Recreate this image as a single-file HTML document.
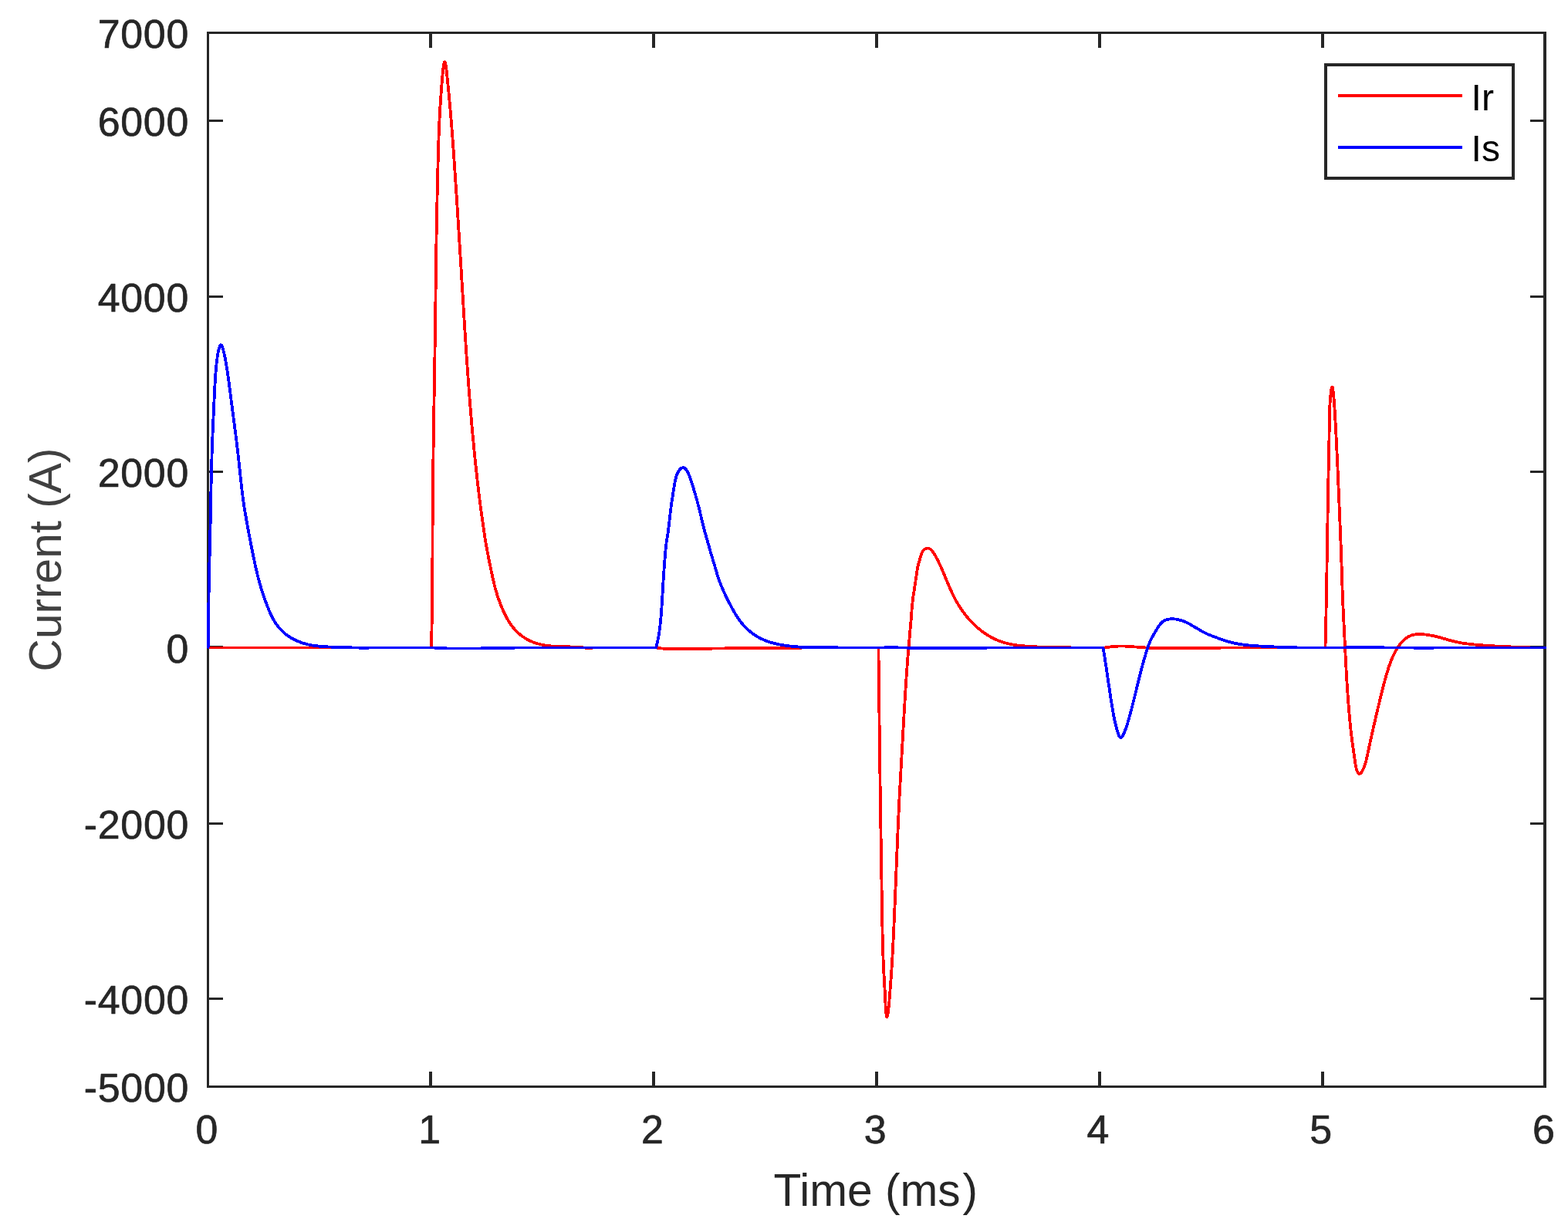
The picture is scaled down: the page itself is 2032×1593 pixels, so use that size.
<!DOCTYPE html>
<html lang="en"><head><meta charset="utf-8"><title>Current (A) vs Time (ms)</title>
<style>
html,body{margin:0;padding:0;background:#fff;}
body{width:2032px;height:1593px;overflow:hidden;position:relative;}
svg{position:absolute;left:0;top:0;display:block;}
text{font-family:"Liberation Sans",sans-serif;}
.tk{font-size:51.9px;fill:#262626;stroke:#262626;stroke-width:0.7;stroke-linejoin:round;letter-spacing:0.7px;}
.lb{font-size:58.6px;fill:#262626;}
.lg{font-size:48.1px;fill:#000;}
</style></head><body>
<svg width="2032" height="1593" viewBox="0 0 2032 1593">
<rect x="0" y="0" width="2032" height="1593" fill="#fff"/>
<g fill="#262626" shape-rendering="crispEdges">
<rect x="268" y="41" width="3" height="1369"/>
<rect x="2000" y="41" width="4" height="1369"/>
<rect x="268" y="41" width="1736" height="3"/>
<rect x="268" y="1407" width="1736" height="3"/>
<rect x="556" y="1389" width="4" height="19"/>
<rect x="556" y="43" width="4" height="19"/>
<rect x="845" y="1389" width="4" height="19"/>
<rect x="845" y="43" width="4" height="19"/>
<rect x="1134" y="1389" width="4" height="19"/>
<rect x="1134" y="43" width="4" height="19"/>
<rect x="1423" y="1389" width="4" height="19"/>
<rect x="1423" y="43" width="4" height="19"/>
<rect x="1712" y="1389" width="4" height="19"/>
<rect x="1712" y="43" width="4" height="19"/>
<rect x="270" y="155" width="19" height="3"/>
<rect x="1983" y="155" width="18" height="3"/>
<rect x="270" y="383" width="19" height="3"/>
<rect x="1983" y="383" width="18" height="3"/>
<rect x="270" y="610" width="19" height="3"/>
<rect x="1983" y="610" width="18" height="3"/>
<rect x="270" y="837" width="19" height="3"/>
<rect x="1983" y="837" width="18" height="3"/>
<rect x="270" y="1066" width="19" height="3"/>
<rect x="1983" y="1066" width="18" height="3"/>
<rect x="270" y="1293" width="19" height="3"/>
<rect x="1983" y="1293" width="18" height="3"/>
</g>
<g fill="none" stroke-width="3.8" stroke-linejoin="round" stroke-linecap="butt" shape-rendering="crispEdges">
<path stroke="#ff0000" d="M268.6 839.5L558.5 839.5L558.54 839.47L558.71 838.42L558.87 836.01L559.22 826.43L559.56 811.76L559.87 792.64L560.11 773.24L560.29 752.17L560.61 683.35L560.82 652.26L561.08 623.35L561.41 595.1L562.08 547.99L563.85 434.6L565.01 343.59L565.44 313.56L566.16 273.62L567.18 227.19L567.93 197.68L568.64 175.3L569.44 156.22L569.89 147.37L570.4 138.82L571.14 127.6L572.08 114.78L573.15 101.37L573.93 92.85L574.54 87.39L574.89 84.89L575.18 83.22L575.47 81.9L575.76 80.94L576.06 80.41L576.29 80.3L576.44 80.38L576.59 80.57L576.97 81.51L577.28 82.7L577.67 84.69L578.45 90.03L579.3 97.43L580.93 114.07L583.01 136.63L584.53 154.19L585.93 171.71L587.2 188.65L588.65 209.2L592.02 259.52L595.33 311.9L602.18 424.18L604.18 455.2L606.07 482.67L607.36 500.28L608.65 517.18L609.96 533.37L611.27 548.85L612.65 564.34L614.05 579.12L615.52 593.9L616.99 607.97L618.92 625.39L620.93 642.37L622.66 656.06L624.67 670.75L627.01 687.3L628.67 698.18L630.62 709.59L632.88 721.7L635.54 734.92L638.36 748.11L640.45 757.23L641.33 760.75L642.28 764.25L643.31 767.78L644.52 771.69L645.82 775.58L647.19 779.45L648.63 783.25L649.99 786.65L651.53 790.27L652.96 793.46L654.27 796.22L655.6 798.87L656.94 801.39L658.15 803.53L659.54 805.83L660.81 807.79L662.12 809.69L663.47 811.53L665.06 813.54L666.54 815.28L668.08 816.97L669.69 818.62L671.37 820.21L673.11 821.76L674.92 823.24L676.81 824.67L678.77 826.04L680.81 827.34L682.93 828.58L684.85 829.61L687.12 830.72L689.17 831.63L691.29 832.48L693.48 833.28L695.74 834.01L698.07 834.69L700.47 835.3L702.94 835.84L705.48 836.32L708.1 836.73L710.78 837.07L713.53 837.36L718.31 837.73L723.97 838.01L729.59 838.19L741.46 838.46L746.64 838.65L750.4 838.9L757.85 839.6L761.55 839.8L763.59 839.81L765.81 839.77L770 839.5L850 839.5L857 840.37L860 840.69L863 840.91L866 841L917 841L919 840.93L923 840.59L925 840.5L939 840.41L969.5 840.31L988 840.19L1016.5 839.9L1047 839.5L1138.4 839.5L1139.89 963.19L1140.86 1037.21L1142.84 1168.91L1143.26 1193.18L1143.66 1212.82L1144.18 1232.42L1144.76 1248.07L1145.29 1259.16L1146.57 1282.49L1147.69 1305.2L1148.02 1310.32L1148.4 1314.13L1148.62 1315.7L1148.87 1317.02L1149.13 1317.93L1149.24 1318.14L1149.35 1318.24L1149.47 1318.24L1149.64 1318.02L1149.92 1317.2L1150.26 1315.64L1150.64 1313.38L1151.45 1307.36L1152.22 1299.86L1153.15 1288.74L1154.5 1270.36L1155.49 1256.01L1156.28 1243.29L1157.41 1222.1L1158.66 1195.36L1159.96 1164.79L1163.57 1076.12L1164.67 1051.15L1165.61 1031.91L1171.31 930.55L1172.78 905.52L1173.81 889L1174.82 874.06L1175.83 859.97L1176.93 845.98L1178.03 832.91L1180.48 805.53L1180.98 799.32L1181.76 788.44L1182.43 781.42L1183.12 775.66L1183.92 769.84L1186.62 752.32L1188.63 738.88L1189.39 734.63L1190.15 731.2L1191.8 725.61L1193.15 720.61L1194 718.02L1194.45 716.91L1194.96 715.84L1195.53 714.83L1196.17 713.9L1196.89 713.05L1197.49 712.48L1198.13 711.97L1198.81 711.54L1199.77 711.07L1200.5 710.82L1201.23 710.65L1201.96 710.58L1202.67 710.61L1203.36 710.73L1204.03 710.95L1204.68 711.25L1205.31 711.63L1206.13 712.24L1206.73 712.77L1207.5 713.57L1208.24 714.45L1208.96 715.39L1210.67 717.95L1212.43 720.87L1214.11 723.93L1215.81 727.28L1217.56 730.96L1219.34 734.9L1221.48 739.8L1228.72 757.08L1231.43 763.34L1234.58 770.2L1236.16 773.41L1237.63 776.26L1239.57 779.81L1241.64 783.35L1243.63 786.56L1245.75 789.77L1248.02 792.99L1250.15 795.85L1252.69 799.05L1255.07 801.86L1257.88 804.98L1260.49 807.7L1263.58 810.69L1266.44 813.28L1269.42 815.78L1272.5 818.19L1275.66 820.48L1278.89 822.64L1282.14 824.64L1285.01 826.25L1288.3 827.92L1291.61 829.42L1294.95 830.77L1298.34 831.97L1301.79 833.03L1305.3 833.97L1307.99 834.6L1310.72 835.16L1313.5 835.67L1316.82 836.19L1320.22 836.65L1323.72 837.05L1331 837.69L1339.89 838.24L1350.61 838.7L1363.06 839.06L1376.78 839.31L1400 839.5L1431 839.5L1436 838.9L1440.5 838.26L1442.5 838.04L1449 837.62L1451.5 837.53L1454 837.5L1458.5 837.63L1466.5 838.1L1475 838.8L1484.5 839.46L1488.5 839.92L1490 840L1579 840L1580.5 839.89L1583 839.5L1717.5 839.5L1718.16 811.37L1718.78 779.82L1719.35 746.19L1720.89 647.23L1721.37 621.44L1722.43 570.05L1723.05 534.77L1723.27 528.2L1723.56 522.4L1723.91 517.26L1724.37 512.17L1724.9 507.55L1725.41 504.3L1725.7 502.92L1725.93 502.16L1726.22 501.56L1726.36 501.46L1726.43 501.47L1726.57 501.58L1726.71 501.82L1726.98 502.69L1727.24 503.99L1727.49 505.66L1728.02 510.47L1728.61 517.42L1729.38 527.78L1730.06 538.42L1730.76 550.52L1731.58 566.41L1732.67 589.06L1733.88 615.71L1736.63 680.83L1738.11 719.04L1739.6 764.38L1740.39 784.1L1741.56 808.81L1744.32 863.84L1745.09 877.92L1746.01 892.27L1747.56 913.8L1748.97 930.68L1749.72 938.57L1750.49 945.86L1751.32 953.1L1752.21 960.21L1753.27 968.13L1754.46 976.54L1756.38 989.52L1756.95 992.96L1757.61 995.89L1757.98 997.17L1758.42 998.45L1758.92 999.71L1759.34 1000.58L1759.78 1001.37L1760.25 1002.03L1760.75 1002.54L1761.27 1002.87L1761.81 1002.98L1762.17 1002.93L1762.55 1002.77L1763.11 1002.38L1763.68 1001.81L1764.24 1001.11L1764.98 1000L1765.69 998.76L1766.52 997.14L1767.26 995.52L1767.94 993.9L1768.55 992.26L1769.63 988.88L1770.39 986.04L1771.19 982.62L1775.95 960.5L1781.37 936.41L1785.62 918.23L1789.99 900.2L1793.15 887.6L1795.94 877.26L1797.24 872.76L1798.58 868.36L1799.96 864.1L1801.21 860.49L1802.31 857.52L1803.43 854.67L1804.59 851.95L1805.77 849.38L1806.98 846.96L1808.21 844.66L1809.68 842.13L1811.17 839.73L1812.68 837.45L1814.22 835.29L1815.58 833.53L1816.99 831.88L1818.45 830.33L1819.98 828.89L1821.6 827.57L1823.01 826.56L1825.1 825.3L1827.35 824.22L1828.72 823.69L1829.78 823.34L1832.02 822.75L1833.61 822.45L1834.85 822.27L1837.47 822.04L1840.3 822L1843.33 822.13L1847.04 822.48L1850.85 823L1855.2 823.75L1859.92 824.74L1863.34 825.55L1866.92 826.5L1877.2 829.5L1881.38 830.66L1885.24 831.63L1888.89 832.43L1892.79 833.18L1897.05 833.86L1901.27 834.45L1906.4 835.05L1911.29 835.55L1916.91 836.06L1928.18 836.89L1939.8 837.55L1962.13 838.63L1975.65 839.19L1986.41 839.5L1995.92 839.61L2003.5 839.5"/>
<path stroke="#0000ff" d="M269.5 840.6L269.6 839.58L269.69 837.43L269.85 829.69L270.35 785.03L270.76 759.18L271.22 737.79L272.58 680.85L273.71 621.89L274.15 604.05L274.62 587.65L275.16 572.3L275.84 555.52L277.74 513.77L278.45 499.53L279.27 486.27L279.71 480.58L280.2 475.07L280.84 469.16L281.56 463.61L282.29 459.02L283.12 454.81L283.91 451.55L284.39 449.98L284.76 448.99L285.14 448.18L285.52 447.57L285.91 447.2L286.3 447.08L286.7 447.23L287.1 447.64L287.5 448.27L288.03 449.44L288.56 450.9L289.08 452.62L290.22 457.08L291.43 462.59L292.68 469.21L293.87 476.31L295.11 484.52L297.07 498.95L300.13 522.85L304.53 556.37L306.33 570.49L307.65 581.41L308.81 591.45L312.38 624.85L313.86 637.91L315.31 649.21L316.13 654.79L317.05 660.6L319.59 675.34L322.61 691.92L325.63 707.64L328.76 723.21L331.03 733.8L333.06 742.58L335.14 750.8L337.44 759.1L338.88 763.9L340.22 768.14L341.63 772.41L343.32 777.27L345.06 782.01L346.8 786.56L348.51 790.82L350.16 794.7L351.37 797.37L352.6 799.88L353.88 802.27L355.01 804.22L356.21 806.14L357.77 808.45L359.16 810.34L360.89 812.56L362.97 815.03L364.78 817L366.57 818.81L368.37 820.46L370.18 821.98L372.37 823.63L374.67 825.21L376.76 826.51L379.31 827.97L382 829.35L384.81 830.66L387.31 831.71L390.35 832.84L393.04 833.74L396.29 834.68L399.15 835.39L401.6 835.92L404.11 836.38L409.31 837.16L414.77 837.75L421.12 838.23L427.88 838.58L435.74 838.86L460.15 839.52L469.63 839.7L475.8 839.69L478.32 839.61L480 839.5L562 839.5L565 839.84L567 839.98L576.5 840.02L579 840.42L580 840.5L622 840.5L623 840.45L626 840.05L627 840L662 840L664 839.91L668 839.5L850 839.5L850.94 836.19L851.81 832.75L852.59 829.2L853.3 825.54L853.95 821.76L854.54 817.87L855.08 813.87L855.68 808.72L856.5 800.12L857.21 791.11L857.83 781.69L859.34 756.43L860.29 741.8L861.4 726.49L862.51 713.27L863.14 707.09L863.82 701.63L864.38 697.88L865.64 690.3L866.2 686.32L869.03 661.74L869.86 655.2L870.6 650.03L873.37 632.27L874.23 627.15L874.85 624.01L875.53 620.98L876.14 618.66L876.81 616.47L877.75 613.95L878.59 612.13L879.26 610.9L879.72 610.15L880.7 608.82L881.46 607.98L881.98 607.51L882.5 607.1L883.04 606.76L883.58 606.5L884.12 606.31L884.66 606.2L885.21 606.17L886.02 606.27L886.57 606.45L887.37 606.89L887.9 607.3L888.43 607.8L889.2 608.71L889.71 609.42L890.45 610.63L891.66 612.97L893.06 616.19L894.39 619.74L896.07 624.71L898.03 630.84L899.83 636.73L901.52 642.46L903.26 648.69L904.78 654.39L906.4 660.8L911.04 680.2L912.67 686.73L913.57 690.04L915.55 696.91L920.62 714.87L925.34 730.58L928.72 742.1L930.64 748.27L931.99 752.22L933.25 755.67L934.88 759.78L936.64 763.94L939.07 769.32L941.61 774.63L944.5 780.37L947.37 785.82L950.42 791.34L953.25 796.25L955.52 799.89L957.86 803.33L960.13 806.32L962.63 809.3L965.34 812.26L968.25 815.14L971.32 817.91L974.13 820.21L977.45 822.66L980.43 824.62L983.04 826.15L986.17 827.77L988.93 829.05L992.27 830.41L995.76 831.65L999.42 832.8L1003.26 833.85L1007.29 834.82L1011.54 835.68L1016 836.46L1020.69 837.14L1024.9 837.64L1030.04 838.15L1034.67 838.5L1040.32 838.83L1045.38 839.03L1050.63 839.16L1056.88 839.26L1081.42 839.34L1086.32 839.4L1090 839.5L1146 839.5L1148 839.17L1149.5 839.01L1161 839L1162 839.08L1164.5 839.48L1174 839.5L1175 839.58L1177 839.92L1178 840L1276 840L1277.5 839.89L1280 839.5L1429.5 839.5L1431.3 850.28L1433.08 861.67L1438.52 898.76L1440.15 909.52L1441.88 920.02L1443.57 929.21L1444.75 934.92L1445.97 940.23L1447.1 944.52L1448.31 948.52L1449.6 952.23L1450.19 953.63L1450.6 954.45L1451.01 955.14L1451.44 955.69L1451.87 956.07L1452.32 956.24L1452.54 956.25L1453 956.1L1453.47 955.75L1453.95 955.23L1454.42 954.55L1454.9 953.76L1455.84 951.9L1457.4 948.3L1458.84 944.56L1460.23 940.54L1461.64 936.09L1464.15 927.35L1467.13 916.12L1469.99 904.72L1476.97 876.21L1479.16 867.65L1481.02 860.69L1483.38 852.31L1485.77 844.41L1487.92 837.96L1489.76 832.98L1490.74 830.64L1491.5 829L1492.24 827.54L1493.21 825.79L1497.62 818.13L1499.59 814.83L1501.62 811.66L1503.28 809.35L1504.61 807.77L1505.62 806.74L1506.67 805.83L1507.77 805.04L1508.95 804.35L1510.22 803.76L1511.57 803.27L1513.49 802.77L1515.53 802.43L1517.67 802.26L1519.9 802.25L1522.77 802.46L1525.13 802.8L1528.11 803.43L1530.52 804.1L1532.91 804.91L1534.69 805.6L1537.05 806.63L1539.39 807.76L1541.71 808.97L1546.28 811.56L1556.84 817.85L1560.09 819.62L1563.3 821.2L1565.42 822.15L1568.07 823.24L1577.12 826.7L1583.69 829.09L1589.38 830.95L1593.5 832.15L1597.77 833.24L1601.55 834.06L1605.45 834.78L1609.47 835.4L1614.28 836.01L1619.2 836.52L1624.96 837.01L1630.81 837.41L1638.24 837.83L1656.87 838.68L1673.59 839.24L1681.02 839.41L1687.58 839.49L1744 839.5L1746.5 839.11L1748 839L1791 839L1792 839.08L1794 839.42L1795 839.5L1831 839.5L1832 839.58L1834 839.92L1835 840L1855 840L1856.5 839.89L1859 839.5L2003.5 839.5"/>
</g>
<text class="tk" x="268.40" y="1482.30" text-anchor="middle">0</text>
<text class="tk" x="557.15" y="1482.30" text-anchor="middle">1</text>
<text class="tk" x="845.90" y="1482.30" text-anchor="middle">2</text>
<text class="tk" x="1134.65" y="1482.30" text-anchor="middle">3</text>
<text class="tk" x="1423.40" y="1482.30" text-anchor="middle">4</text>
<text class="tk" x="1712.15" y="1482.30" text-anchor="middle">5</text>
<text class="tk" x="2000.90" y="1482.30" text-anchor="middle">6</text>
<text class="tk" x="245.00" y="62.27" text-anchor="end">7000</text>
<text class="tk" x="245.00" y="176.10" text-anchor="end">6000</text>
<text class="tk" x="245.00" y="403.77" text-anchor="end">4000</text>
<text class="tk" x="245.00" y="631.43" text-anchor="end">2000</text>
<text class="tk" x="245.00" y="859.10" text-anchor="end">0</text>
<text class="tk" x="245.00" y="1086.77" text-anchor="end">-2000</text>
<text class="tk" x="245.00" y="1314.43" text-anchor="end">-4000</text>
<text class="tk" x="245.00" y="1428.26" text-anchor="end">-5000</text>
<text class="lb" x="1002.60" y="1563.00">Time (ms<tspan dx="2.9">)</tspan></text>
<text class="lb" style="fill:#404040" transform="translate(78.50 725.50) rotate(-90)" text-anchor="middle">Current (A)</text>
<g shape-rendering="crispEdges">
<rect x="1718" y="84" width="243" height="147" fill="#fff" stroke="#262626" stroke-width="4"/>
<rect x="1734" y="122" width="161" height="4" fill="#ff0000"/>
<rect x="1734" y="189" width="161" height="4" fill="#0000ff"/>
</g>
<text class="lg" x="1906.60" y="143.10">Ir</text>
<text class="lg" x="1906.60" y="208.90">Is</text>
</svg>
</body></html>
